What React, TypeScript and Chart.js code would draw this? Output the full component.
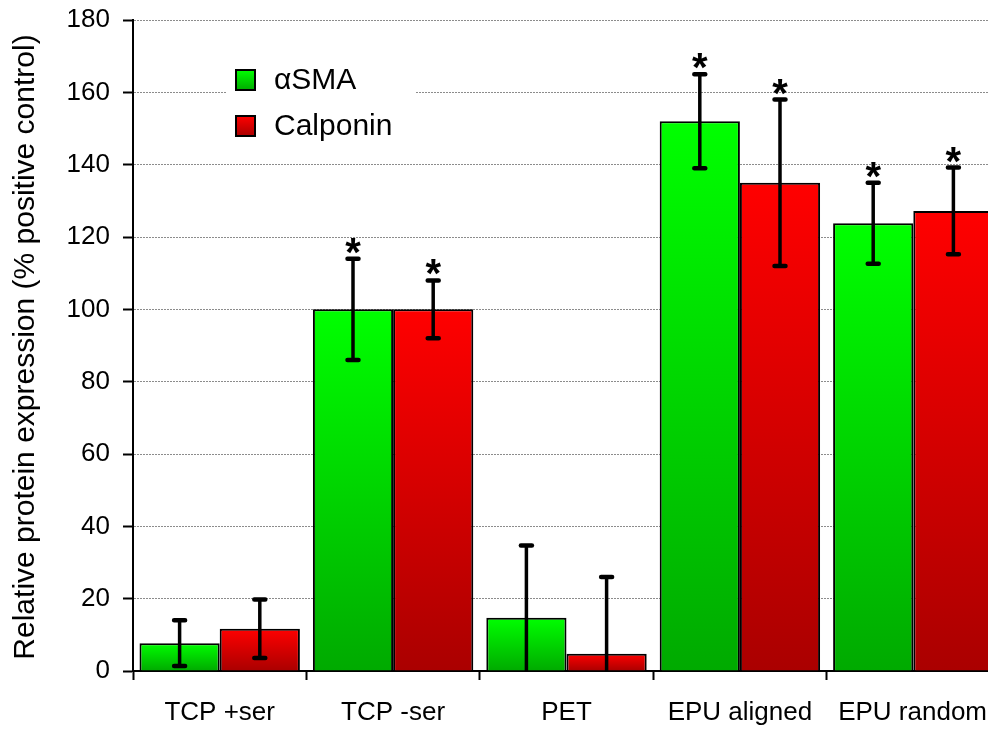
import React, { useEffect, useRef } from "react";
import { Chart, registerables } from "chart.js";

Chart.register(...registerables);

// Substrate conditions along the x axis
const categories = ["TCP +ser", "TCP -ser", "PET", "EPU aligned", "EPU random"];

// Relative protein expression (% of positive control) and error (±)
const asmaValues = [7.7, 100, 14.7, 152, 123.8];
const asmaErrors = [6.3, 14, 20, 13, 11.2];
const calponinValues = [11.7, 100, 4.8, 135, 127.2];
const calponinErrors = [8.1, 8, 21.2, 23, 12];

// Significance markers (*) per condition
const asmaSignificant = [false, true, false, true, true];
const calponinSignificant = [false, true, false, true, true];

const yTicks = [0, 20, 40, 60, 80, 100, 120, 140, 160, 180];

const FONT = "'Liberation Sans', Arial, Helvetica, sans-serif";

const GREEN_TOP = "#00ff00";
const GREEN_BOTTOM = "#00aa00";
const RED_TOP = "#ff0000";
const RED_BOTTOM = "#aa0000";

function barGradient(top: string, bottom: string) {
  return (ctx: any) => {
    const chart = ctx.chart;
    const yScale = chart.scales && chart.scales.y;
    if (!chart.chartArea || !yScale || ctx.type !== "data") return top;
    const y0 = yScale.getPixelForValue(ctx.raw as number);
    const y1 = yScale.getPixelForValue(0);
    if (!isFinite(y0) || !isFinite(y1) || y1 - y0 < 1) return top;
    const g = chart.ctx.createLinearGradient(0, y0, 0, y1);
    g.addColorStop(0, top);
    g.addColorStop(1, bottom);
    return g;
  };
}

const overlayPlugin = {
  id: "overlay",
  afterDatasetsDraw(chart: any) {
    const ctx = chart.ctx as CanvasRenderingContext2D;
    const yScale = chart.scales.y;
    const area = chart.chartArea;
    const series = [
      { values: asmaValues, errors: asmaErrors, sig: asmaSignificant },
      { values: calponinValues, errors: calponinErrors, sig: calponinSignificant },
    ];
    ctx.save();
    series.forEach((s, di) => {
      const meta = chart.getDatasetMeta(di);
      meta.data.forEach((bar: any, i: number) => {
        const x = bar.x;
        const hi = s.values[i] + s.errors[i];
        const lo = Math.max(0, s.values[i] - s.errors[i]);
        const yHi = yScale.getPixelForValue(hi);
        const yLo = Math.min(area.bottom, yScale.getPixelForValue(lo));
        // vertical whisker
        ctx.strokeStyle = "#000";
        ctx.lineCap = "butt";
        ctx.lineWidth = 3.5;
        ctx.beginPath();
        ctx.moveTo(x, yHi);
        ctx.lineTo(x, yLo);
        ctx.stroke();
        // caps
        ctx.lineCap = "round";
        ctx.lineWidth = 4.5;
        ctx.beginPath();
        ctx.moveTo(x - 5.5, yHi);
        ctx.lineTo(x + 5.5, yHi);
        if (s.values[i] - s.errors[i] >= 0) {
          ctx.moveTo(x - 5.5, yLo);
          ctx.lineTo(x + 5.5, yLo);
        }
        ctx.stroke();
        // significance asterisk
        if (s.sig[i]) {
          ctx.font = `bold 40px ${FONT}`;
          ctx.fillStyle = "#000";
          ctx.textAlign = "center";
          ctx.textBaseline = "alphabetic";
          const m = ctx.measureText("*");
          const glyphBottom = yHi - 5;
          ctx.fillText("*", x, glyphBottom - m.actualBoundingBoxDescent);
        }
      });
    });
    ctx.restore();
  },
  afterDraw(chart: any) {
    const ctx = chart.ctx as CanvasRenderingContext2D;
    const xScale = chart.scales.x;
    ctx.save();

    // category labels
    ctx.font = `26px ${FONT}`;
    ctx.fillStyle = "#000";
    ctx.textBaseline = "middle";
    ctx.textAlign = "center";
    const visibleRight = 987;
    categories.forEach((c, i) => {
      const cx = xScale.getPixelForValue(i);
      const w = ctx.measureText(c).width;
      const x = Math.min(cx, visibleRight - w / 2);
      ctx.fillText(c, x, 713);
    });

    // y axis title
    ctx.save();
    ctx.translate(26, 347);
    ctx.rotate(-Math.PI / 2);
    ctx.font = `30px ${FONT}`;
    ctx.textAlign = "center";
    ctx.textBaseline = "middle";
    ctx.fillText("Relative protein expression (% positive control)", 0, 0);
    ctx.restore();

    // legend
    ctx.fillStyle = "#fff";
    ctx.fillRect(226, 62, 190, 84);
    const items = [
      { label: "αSMA", top: GREEN_TOP, bottom: GREEN_BOTTOM, y: 70 },
      { label: "Calponin", top: RED_TOP, bottom: RED_BOTTOM, y: 116 },
    ];
    items.forEach((it) => {
      const g = ctx.createLinearGradient(0, it.y, 0, it.y + 20);
      g.addColorStop(0, it.top);
      g.addColorStop(1, it.bottom);
      ctx.fillStyle = g;
      ctx.fillRect(236, it.y, 19, 20);
      ctx.strokeStyle = "#000";
      ctx.lineWidth = 2;
      ctx.strokeRect(236, it.y, 19, 20);
      ctx.fillStyle = "#000";
      ctx.font = `30px ${FONT}`;
      ctx.textAlign = "left";
      ctx.textBaseline = "middle";
      ctx.fillText(it.label, 274, it.y + 11);
    });
    ctx.restore();
  },
};

export default function App() {
  const canvasRef = useRef<HTMLCanvasElement | null>(null);

  useEffect(() => {
    const canvas = canvasRef.current;
    if (!canvas) return;
    const chart = new Chart(canvas, {
      type: "bar",
      data: {
        labels: categories,
        datasets: [
          {
            label: "αSMA",
            data: asmaValues,
            backgroundColor: barGradient(GREEN_TOP, GREEN_BOTTOM),
            borderColor: "#000",
            borderWidth: 2,
            borderSkipped: "start",
          },
          {
            label: "Calponin",
            data: calponinValues,
            backgroundColor: barGradient(RED_TOP, RED_BOTTOM),
            borderColor: "#000",
            borderWidth: 2,
            borderSkipped: "start",
          },
        ],
      },
      options: {
        responsive: false,
        animation: false,
        events: [],
        layout: { padding: { top: 20, right: 0, bottom: 0, left: 0 } },
        datasets: {
          bar: { categoryPercentage: 0.925, barPercentage: 1 },
        },
        plugins: {
          legend: { display: false },
          tooltip: { enabled: false },
          title: { display: false },
        },
        scales: {
          x: {
            offset: true,
            ticks: { display: false },
            grid: {
              display: true,
              offset: true,
              drawOnChartArea: false,
              drawTicks: true,
              tickLength: 9,
              tickColor: "#000",
              tickWidth: 2,
            },
            border: { display: true, color: "#000", width: 2 },
            afterFit: (s: any) => {
              s.height = 59;
            },
          },
          y: {
            min: 0,
            max: 180,
            afterBuildTicks: (s: any) => {
              s.ticks = yTicks.map((v) => ({ value: v }));
            },
            ticks: {
              color: "#000",
              padding: 13,
              font: { family: FONT, size: 26, lineHeight: 0.5 },
            },
            grid: {
              color: "#8c8c8c",
              lineWidth: 1,
              drawTicks: true,
              tickLength: 10,
              tickColor: "#000",
              tickWidth: 2,
            },
            border: { display: true, color: "#000", width: 2, dash: [2, 1] },
            afterFit: (s: any) => {
              s.width = 133;
            },
          },
        },
      },
      plugins: [overlayPlugin],
    });
    return () => chart.destroy();
  }, []);

  return (
    <div
      style={{
        position: "fixed",
        left: 0,
        top: 0,
        width: 988,
        height: 730,
        overflow: "hidden",
        background: "#fff",
      }}
    >
      <canvas
        ref={canvasRef}
        width={1000}
        height={730}
        style={{ display: "block", width: 1000, height: 730 }}
      />
    </div>
  );
}
